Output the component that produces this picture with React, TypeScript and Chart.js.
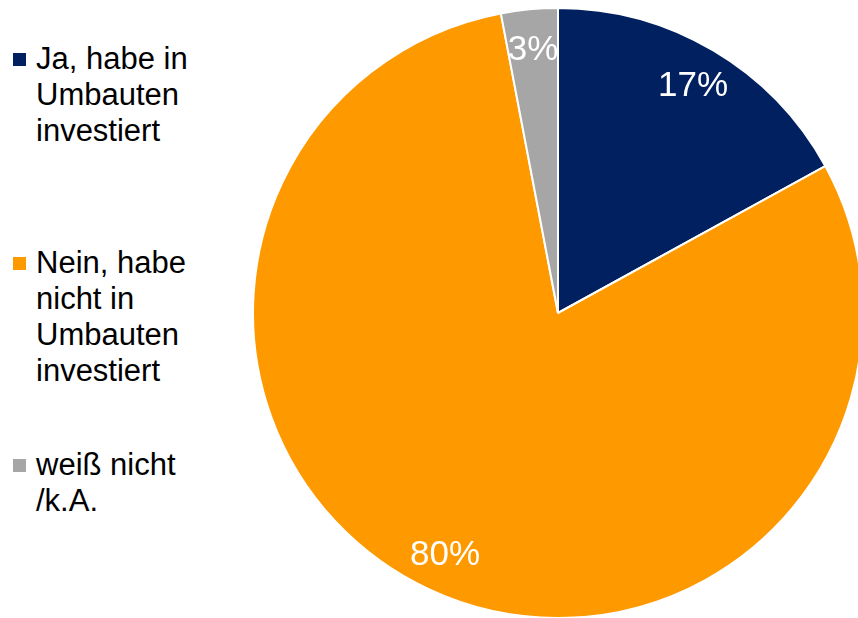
import React, { useEffect, useRef } from "react";
import { Chart, registerables } from "chart.js";

Chart.register(...registerables);

const categories = [
  "Ja, habe in Umbauten investiert",
  "Nein, habe nicht in Umbauten investiert",
  "weiß nicht /k.A.",
];
const legendLines = [
  ["Ja, habe in", "Umbauten", "investiert"],
  ["Nein, habe", "nicht in", "Umbauten", "investiert"],
  ["weiß nicht", "/k.A."],
];
const values = [17, 80, 3];
const valueLabels = ["17%", "80%", "3%"];
const colors = ["#002060", "#FF9900", "#A6A6A6"];

const FONT = '"Liberation Sans", Arial, sans-serif';

const labelPlugin = {
  id: "sliceLabels",
  afterDatasetsDraw(chart: any) {
    const ctx = chart.ctx;
    const meta = chart.getDatasetMeta(0);
    ctx.save();
    ctx.fillStyle = "#FFFFFF";
    ctx.font = `35px ${FONT}`;
    ctx.textAlign = "center";
    ctx.textBaseline = "middle";
    meta.data.forEach((arc: any, i: number) => {
      const p = arc.getProps(["x", "y", "startAngle", "endAngle", "outerRadius"], true);
      const mid = (p.startAngle + p.endAngle) / 2;
      const r = p.outerRadius * 0.87;
      ctx.fillText(valueLabels[i], p.x + Math.cos(mid) * r, p.y + Math.sin(mid) * r + 2);
    });
    ctx.restore();
  },
};

const legendTops = [41, 245, 447];

export default function App() {
  const ref = useRef<HTMLCanvasElement>(null);
  useEffect(() => {
    if (!ref.current) return;
    const chart = new Chart(ref.current, {
      type: "pie",
      data: {
        labels: categories,
        datasets: [
          {
            data: values,
            backgroundColor: colors,
            borderColor: "#FFFFFF",
            borderWidth: 2,
          },
        ],
      },
      options: {
        animation: false,
        responsive: false,
        maintainAspectRatio: false,
        layout: { padding: 0 },
        plugins: {
          legend: { display: false },
          tooltip: { enabled: false },
        },
      },
      plugins: [labelPlugin],
    });
    return () => chart.destroy();
  }, []);

  return (
    <div
      style={{
        position: "fixed",
        left: 0,
        top: 0,
        width: 858,
        height: 618,
        overflow: "hidden",
        background: "#FFFFFF",
        fontFamily: FONT,
      }}
    >
      {legendLines.map((lines, i) => (
        <div
          key={i}
          style={{ position: "absolute", left: 0, top: legendTops[i], width: 240 }}
        >
          <div
            style={{
              position: "absolute",
              left: 13,
              top: 12,
              width: 13,
              height: 13,
              background: colors[i],
            }}
          />
          <div
            style={{
              position: "absolute",
              left: 36,
              top: 0,
              fontSize: 31,
              lineHeight: "36px",
              color: "#000000",
              whiteSpace: "nowrap",
            }}
          >
            {lines.map((l, j) => (
              <div key={j}>{l}</div>
            ))}
          </div>
        </div>
      ))}
      <canvas
        ref={ref}
        width={612}
        height={612}
        style={{ position: "absolute", left: 252, top: 7, width: 612, height: 612 }}
      />
    </div>
  );
}
